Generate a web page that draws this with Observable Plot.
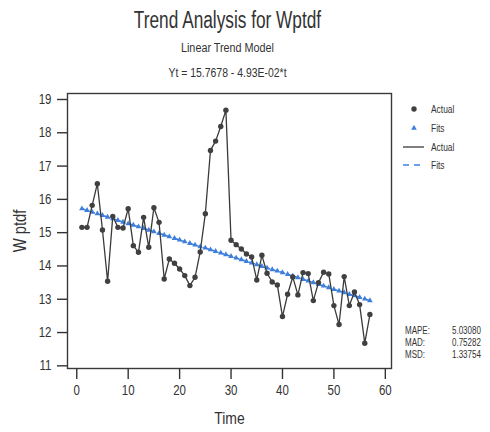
<!DOCTYPE html>
<html><head><meta charset="utf-8">
<script src="https://cdn.jsdelivr.net/npm/d3@7"></script>
<script src="https://cdn.jsdelivr.net/npm/@observablehq/plot@0.6"></script>
<style>
body{margin:0;background:#fff;}
#c{position:relative;width:490px;height:432px;font-family:"Liberation Sans Narrow","Arial Narrow","Liberation Sans",Arial,sans-serif;color:#333;}
.t{position:absolute;left:0;width:455px;text-align:center;white-space:nowrap;line-height:1;transform-origin:227.5px 50%;}
#plot{position:absolute;left:0;top:0;}
#leg{position:absolute;left:0;top:0;}
</style></head><body>
<div id="c">
  <div class="t" style="top:9px;font-size:23px;transform:scaleX(0.75);">Trend Analysis for Wptdf</div>
  <div class="t" style="top:42px;font-size:12px;transform:scaleX(0.9);">Linear Trend Model</div>
  <div class="t" style="top:67px;font-size:12px;transform:scaleX(0.87);">Yt = 15.7678 - 4.93E-02*t</div>
  <div id="plot"></div>
</div>
<script>
const actual = [15.16,15.16,15.82,16.47,15.08,13.54,15.49,15.16,15.14,15.72,
  14.61,14.41,15.46,14.56,15.75,15.31,13.61,14.21,14.08,13.91,
  13.71,13.41,13.66,14.42,15.57,17.47,17.75,18.19,18.68,14.77,
  14.64,14.51,14.36,14.27,13.58,14.32,13.78,13.52,13.43,12.48,
  13.15,13.67,13.13,13.80,13.77,12.96,13.50,13.81,13.76,12.81,
  12.24,13.68,12.81,13.22,12.84,11.68,12.54];
const fits = [15.72,15.67,15.62,15.57,15.52,15.47,15.42,15.37,15.32,15.27,
  15.23,15.18,15.13,15.08,15.03,14.98,14.93,14.88,14.83,14.78,
  14.73,14.68,14.63,14.58,14.54,14.49,14.44,14.39,14.34,14.29,
  14.24,14.19,14.14,14.09,14.04,13.99,13.94,13.89,13.85,13.80,
  13.75,13.70,13.65,13.60,13.55,13.50,13.45,13.40,13.35,13.30,
  13.25,13.20,13.15,13.11,13.06,13.01,12.96];
const xTicks = [0,10,20,30,40,50,60];
const yTicks = [11,12,13,14,15,16,17,18,19];
const legendLabels = ["Actual","Fits","Actual","Fits"];
const statNames = ["MAPE:","MAD:","MSD:"];
const statValues = ["5.03080","0.75282","1.33754"];

const rows = actual.map((v,i)=>({t:i+1, actual:v, fit:fits[i]}));
const font = '"Liberation Sans Narrow","Arial Narrow","Liberation Sans",Arial,sans-serif';

const chart = Plot.plot({
  width: 490, height: 432,
  marginLeft: 67, marginRight: 99, marginTop: 93, marginBottom: 64,
  style: {fontFamily: font, color: "#333", background: "transparent", overflow: "visible"},
  x: {domain: [-1.8, 61.2]},
  y: {domain: [10.92, 19.18]},
  marks: [
    Plot.frame({stroke: "#3a3a3a", strokeWidth: 1.4}),
    Plot.axisY({ticks: yTicks, tickSize: 10, tickPadding: 6, fontSize: 14, label: null, stroke: "#333", strokeWidth: 1.4}),
    Plot.axisX({ticks: xTicks, tickSize: 11, tickPadding: 6, fontSize: 14, label: null, stroke: "#333", strokeWidth: 1.4}),
    Plot.text(["Time"], {frameAnchor: "bottom", dy: 55, fontSize: 17, fill: "#333"}),
    Plot.text(["W ptdf"], {frameAnchor: "left", textAnchor: "middle", dx: -47, rotate: -90, fontSize: 18, fill: "#333"}),
    Plot.line(rows, {x: "t", y: "fit", stroke: "#3f7fdc", strokeWidth: 1.5, strokeDasharray: "5,3"}),
    Plot.dot(rows, {x: "t", y: "fit", symbol: "triangle", r: 2.1, fill: "#3f7fdc", stroke: "none"}),
    Plot.line(rows, {x: "t", y: "actual", stroke: "#3a3a3a", strokeWidth: 1.3}),
    Plot.dot(rows, {x: "t", y: "actual", r: 2.7, fill: "#404040", stroke: "none"})
  ]
});
document.getElementById("plot").appendChild(chart);

// legend and statistics (drawn beside the plot frame)
const leg = d3.select("#c").append("svg").attr("id","leg").attr("width",490).attr("height",432)
  .style("font-family", font).style("pointer-events","none");
const ly = [109,128,147,165];
leg.append("circle").attr("cx",414).attr("cy",ly[0]).attr("r",2.7).attr("fill","#404040");
leg.append("path").attr("d", d3.symbol(d3.symbolTriangle, 14)()).attr("transform",`translate(414,${ly[1]})`).attr("fill","#3f7fdc");
leg.append("line").attr("x1",403).attr("x2",424).attr("y1",ly[2]).attr("y2",ly[2]).attr("stroke","#3a3a3a").attr("stroke-width",1.3);
leg.append("line").attr("x1",403).attr("x2",424).attr("y1",ly[3]).attr("y2",ly[3]).attr("stroke","#3f7fdc").attr("stroke-width",1.5).attr("stroke-dasharray","6,5");
legendLabels.forEach((s,i)=>{
  leg.append("text").attr("x",431).attr("y",ly[i]).attr("dy","0.35em").attr("font-size",10.5).attr("fill","#333").text(s);
});
const sy = [330,342,354];
statNames.forEach((s,i)=>{
  leg.append("text").attr("x",405).attr("y",sy[i]).attr("dy","0.35em").attr("font-size",10).attr("fill","#333").text(s);
  leg.append("text").attr("x",452).attr("y",sy[i]).attr("dy","0.35em").attr("font-size",10).attr("fill","#333").text(statValues[i]);
});

// condense all svg texts to imitate a narrow typeface
function condense(root, k){
  root.querySelectorAll("text").forEach(el=>{
    const len = el.getComputedTextLength();
    if (len > 0) {
      el.setAttribute("textLength", (len*k).toFixed(2));
      el.setAttribute("lengthAdjust", "spacingAndGlyphs");
    }
  });
}
condense(chart, 0.82);
condense(leg.node(), 0.8);
</script>
</body></html>
